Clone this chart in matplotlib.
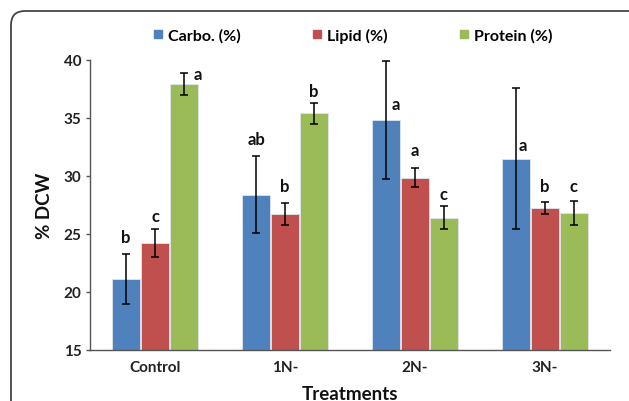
import matplotlib
matplotlib.use("Agg")
import matplotlib.pyplot as plt
import numpy as np
from matplotlib.patches import FancyBboxPatch
from matplotlib.transforms import IdentityTransform
from matplotlib.lines import Line2D

# ---- data ----
treatments = ["Control", "1N-", "2N-", "3N-"]
series = ["Carbo. (%)", "Lipid (%)", "Protein (%)"]
carbo = [21.1, 28.4, 34.8, 31.5]
carbo_err = [2.15, 3.35, 5.1, 6.1]
lipid = [24.25, 26.75, 29.85, 27.25]
lipid_err = [1.2, 0.95, 0.8, 0.55]
protein = [37.9, 35.4, 26.4, 26.8]
protein_err = [0.95, 0.9, 1.0, 1.05]
carbo_letters = ["b", "ab", "a", "a"]
lipid_letters = ["c", "b", "a", "b"]
protein_letters = ["a", "b", "c", "c"]

colors = ["#4F81BD", "#C0504D", "#9BBB59"]

plt.rcParams["font.family"] = ["Lato", "DejaVu Sans"]
plt.rcParams["font.weight"] = "bold"

fig = plt.figure(figsize=(6.29, 4.02), dpi=100)
ax = fig.add_axes([90 / 629, 51 / 402, 520 / 629, 290 / 402])

x = np.arange(len(treatments))
spacing = 0.223
width = 0.212
vals = [carbo, lipid, protein]
errs = [carbo_err, lipid_err, protein_err]
letters = [carbo_letters, lipid_letters, protein_letters]

# label placement: (anchor 'err' or 'bar', dx px, dy px)
placements = [
    [("err", 0, 17), ("err", 0, 17), ("bar", 10, 16), ("bar", 7, 14)],
    [("err", 0, 13), ("err", 0, 17), ("err", 0, 18), ("err", 0, 16)],
    [("err", 14, -1), ("err", 0, 12), ("err", 0, 12), ("err", 0, 15)],
]

for i in range(3):
    pos = x + (i - 1) * spacing
    ax.bar(pos, np.array(vals[i]) - 15, width=width, bottom=15,
           color=colors[i], edgecolor="#dfe6ee", linewidth=0.6, zorder=2)
    ax.errorbar(pos, vals[i], yerr=errs[i], fmt="none", ecolor="black",
                elinewidth=1.1, capsize=3.2, capthick=1.1, zorder=3)
    for j in range(len(treatments)):
        anchor, dx, dy = placements[i][j]
        yv = vals[i][j] + (errs[i][j] if anchor == "err" else 0)
        ax.annotate(letters[i][j], (pos[j], yv), xytext=(dx * 0.72, dy * 0.72),
                    textcoords="offset points", ha="center", va="center",
                    fontsize=12, fontweight="bold", color="#111111", zorder=4)

ax.set_xlim(-0.5, 3.5)
ax.set_ylim(15, 40)
ax.set_yticks([15, 20, 25, 30, 35, 40])
ax.set_xticks(x)
ax.set_xticklabels(treatments)
for s in ["top", "right"]:
    ax.spines[s].set_visible(False)
for s in ["left", "bottom"]:
    ax.spines[s].set_color("#555555")
    ax.spines[s].set_linewidth(1.0)
ax.tick_params(axis="y", length=3, width=1.0, color="#555555", pad=3,
               labelsize=11, labelcolor="#222222")
ax.tick_params(axis="x", length=0, pad=7, labelsize=11, labelcolor="#222222")
for lab in ax.get_xticklabels() + ax.get_yticklabels():
    lab.set_fontweight("bold")

ax.set_ylabel("% DCW", fontsize=13.5, fontweight="bold", color="#111111", labelpad=8)
ax.set_xlabel("Treatments", fontsize=13.5, fontweight="bold", color="#111111", labelpad=8)

handles = [Line2D([], [], marker="s", linestyle="none", markersize=6,
                  markerfacecolor=c, markeredgecolor=c) for c in colors]
fig.legend(handles, series, loc="center", bbox_to_anchor=(353 / 629, 1 - 36 / 402),
           ncol=3, frameon=False, handlelength=0.6, handletextpad=0.3,
           columnspacing=4.5, prop={"weight": "bold", "size": 11.5})

# rounded border around the figure
border = FancyBboxPatch((11, -30), 650, 402 - 12 + 30,
                        boxstyle="round,pad=0,rounding_size=14",
                        transform=IdentityTransform(), fill=False,
                        edgecolor="#444444", linewidth=1.3)
fig.patches.append(border)

fig.savefig("out.png", dpi=100)
